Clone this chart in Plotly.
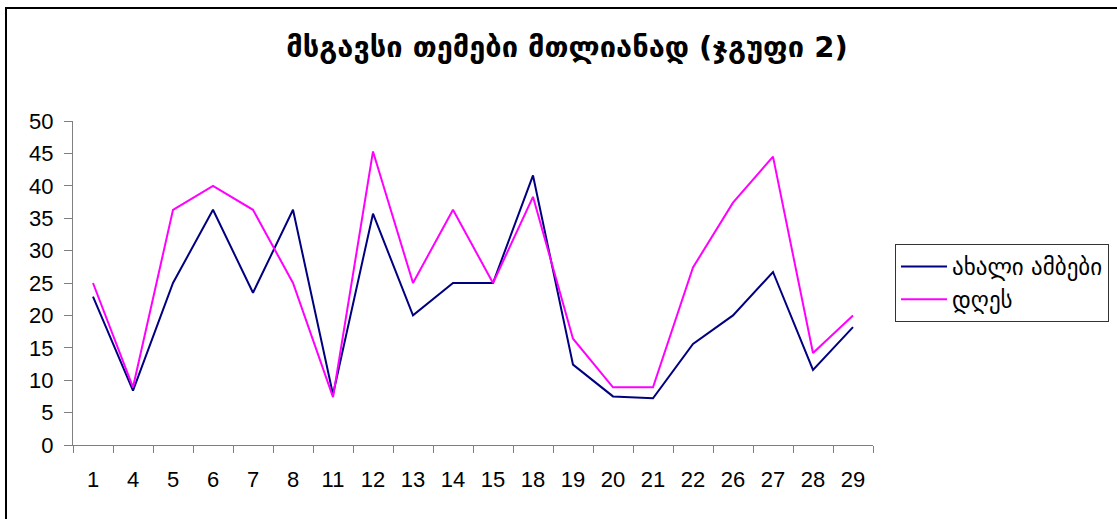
import plotly.graph_objects as go

categories = ["1", "4", "5", "6", "7", "8", "11", "12", "13", "14", "15", "18", "19", "20", "21", "22", "26", "27", "28", "29"]
news = [22.9, 8.4, 25, 36.3, 23.5, 36.3, 7.8, 35.7, 20.0, 25, 25, 41.6, 12.4, 7.5, 7.2, 15.6, 20.0, 26.7, 11.6, 18.2]
today = [25, 8.9, 36.3, 40.0, 36.3, 25, 7.4, 45.3, 25, 36.3, 25, 38.3, 16.4, 8.9, 8.9, 27.4, 37.4, 44.5, 14.2, 20.0]
y_ticks = list(range(0, 51, 5))

title_text = "<b>მსგავსი თემები მთლიანად (ჯგუფი 2)</b>"
name_news = "ახალი ამბები"
name_today = "დღეს"

fig = go.Figure()
fig.add_trace(go.Scatter(x=categories, y=news, mode="lines", name=name_news,
                         line=dict(color="#000080", width=2)))
fig.add_trace(go.Scatter(x=categories, y=today, mode="lines", name=name_today,
                         line=dict(color="#FF00FF", width=2)))

W, H = 1117, 519
L, R, T, B = 73, 873, 121, 445
pw, ph = R - L, B - T

def px_x(p):
    return (p - L) / pw

def px_y(p):
    return (B - p) / ph

fig.update_layout(
    width=W, height=H,
    margin=dict(l=L, r=W - R, t=T, b=H - B, pad=0, autoexpand=False),
    paper_bgcolor="white", plot_bgcolor="white",
    font=dict(family="Liberation Sans, Arial, sans-serif", size=22, color="black"),
    title=dict(text=title_text, x=567 / W, xanchor="center", xref="container",
               y=1 - 47 / H, yanchor="middle", yref="container",
               font=dict(family="DejaVu Sans", size=29, color="black")),
    showlegend=True,
    legend=dict(x=px_x(895), y=px_y(244), xanchor="left", yanchor="top",
                bordercolor="#333333", borderwidth=1, bgcolor="white",
                font=dict(family="DejaVu Sans", size=23),
                tracegroupgap=4, itemwidth=46),
    xaxis=dict(type="category", range=[-0.5, len(categories) - 0.5],
               showgrid=False, zeroline=False, showline=True, linecolor="#808080", linewidth=1,
               ticks="outside", tickson="boundaries", ticklen=7, tickcolor="#808080",
               ticklabelstandoff=15, fixedrange=True),
    yaxis=dict(range=[0, 50], tickvals=y_ticks, showgrid=False, zeroline=False,
               showline=True, linecolor="#808080", linewidth=1,
               ticks="outside", ticklen=8, tickcolor="#808080",
               ticklabelstandoff=6, fixedrange=True),
    shapes=[dict(type="rect", xref="paper", yref="paper",
                 x0=px_x(6), x1=px_x(1125), y0=px_y(530), y1=px_y(8),
                 line=dict(color="black", width=2), fillcolor="rgba(0,0,0,0)", layer="below")],
)

fig.write_html("out.html", config={"displayModeBar": False},
               post_script="document.body.style.margin='0';document.body.style.overflow='hidden';")
